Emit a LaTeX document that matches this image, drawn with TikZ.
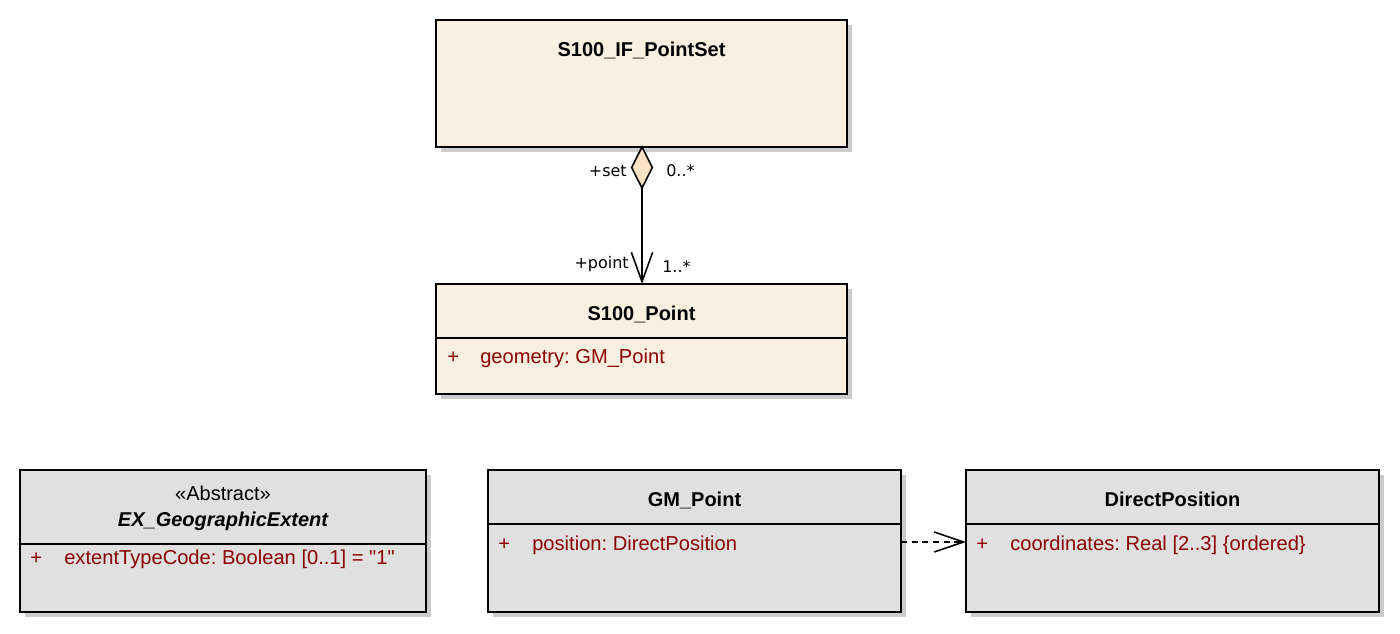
\documentclass[tikz,border=0pt]{standalone}
\usepackage{fontspec}
\setmainfont{Liberation Sans}[Ligatures=TeXOff]
\newfontfamily\rolefont{DejaVu Sans}
\usepackage{tikz}
\usetikzlibrary{arrows.meta,shapes.geometric,shadows}

\definecolor{classbeige}{HTML}{FAF0E2}
\definecolor{classgray}{HTML}{E0E0E0}
\definecolor{attrred}{HTML}{8B0000}
\definecolor{aggfill}{HTML}{FBE3C3}
\frenchspacing

\begin{document}
\begin{tikzpicture}[x=0.75pt,y=-0.75pt,
  classbox/.style={draw=black,line width=1.5pt,fill=#1,anchor=north west,inner sep=0pt,outer sep=0pt,
    drop shadow={shadow xshift=3.75pt,shadow yshift=-3.75pt,fill=black!20,opacity=1}},
  sepline/.style={line width=1.5pt},
  titletext/.style={anchor=base,inner sep=0pt,font=\fontsize{15pt}{17pt}\selectfont\bfseries},
  stereotext/.style={anchor=base,inner sep=0pt,font=\fontsize{15pt}{17pt}\selectfont},
  attrtext/.style={anchor=base west,inner sep=0pt,text=attrred,font=\fontsize{15.1pt}{17pt}\selectfont},
  rolelabel/.style={inner sep=0pt,font=\rolefont\fontsize{12pt}{14pt}\selectfont},
  aggdiamond/.style={diamond,draw=black,line width=1.2pt,fill=aggfill,minimum width=15.5pt,minimum height=30.75pt,inner sep=0pt,outer sep=0pt,anchor=north},
  assocline/.style={line width=1.2pt,-{Straight Barb[length=22pt,width=16pt,line width=1.2pt]}},
  depline/.style={line width=1.3pt,dash pattern=on 4.5pt off 3.5pt,-{Straight Barb[length=22pt,width=15pt,line width=1.2pt]}}]
\useasboundingbox (0,0) rectangle (1400,634);

% S100_IF_PointSet
\node[classbox=classbeige,minimum width=308.25pt,minimum height=95.25pt] (pset) at (436,20) {};
\node[titletext] (psettitle) at (641.5,57) {S100\_IF\_PointSet};

% S100_Point
\node[classbox=classbeige,minimum width=308.25pt,minimum height=82.5pt] (point) at (436,284) {};
\draw[sepline] (point.west |- 0,338) -- (point.east |- 0,338);
\node[titletext] (pointtitle) at (641.5,321) {S100\_Point};
\node[attrtext] (pointvis) at (447,364) {+};
\node[attrtext] (pointattr) at (480,364) {geometry: GM\_Point};

% aggregation
\node[aggdiamond] (agg) at (642,147) {};
\draw[assocline] (agg.south) -- (agg.south |- point.north);
\node[rolelabel,anchor=base east] (setrole) at (627,177) {+set};
\node[rolelabel,anchor=base west] (setmult) at (666,177) {0..*};
\node[rolelabel,anchor=base east] (pointrole) at (629,269) {+point};
\node[rolelabel,anchor=base west] (pointmult) at (662,273) {1..*};

% EX_GeographicExtent
\node[classbox=classgray,minimum width=304.5pt,minimum height=106.5pt] (ext) at (20,470) {};
\draw[sepline] (ext.west |- 0,544) -- (ext.east |- 0,544);
\node[stereotext] (extstereo) at (223,501) {«Abstract»};
\node[titletext,font=\fontsize{15pt}{17pt}\selectfont\bfseries\itshape] (exttitle) at (223,527) {EX\_GeographicExtent};
\node[attrtext] (extvis) at (30,564) {+};
\node[attrtext] (extattr) at (64,564) {extentTypeCode: Boolean [0..1] = "1"};

% GM_Point
\node[classbox=classgray,minimum width=309.75pt,minimum height=106.5pt] (gm) at (488,470) {};
\draw[sepline] (gm.west |- 0,524) -- (gm.east |- 0,524);
\node[titletext] (gmtitle) at (694.5,507) {GM\_Point};
\node[attrtext] (gmvis) at (498,551) {+};
\node[attrtext] (gmattr) at (532,551) {position: DirectPosition};

% DirectPosition
\node[classbox=classgray,minimum width=309.75pt,minimum height=106.5pt] (dp) at (966,470) {};
\draw[sepline] (dp.west |- 0,524) -- (dp.east |- 0,524);
\node[titletext] (dptitle) at (1172.5,507) {DirectPosition};
\node[attrtext] (dpvis) at (976,551) {+};
\node[attrtext] (dpattr) at (1010,551) {coordinates: Real [2..3] \{ordered\}};

% dependency
\draw[depline] (gm.east |- 0,542) -- (dp.west |- 0,542);
\end{tikzpicture}
\end{document}
